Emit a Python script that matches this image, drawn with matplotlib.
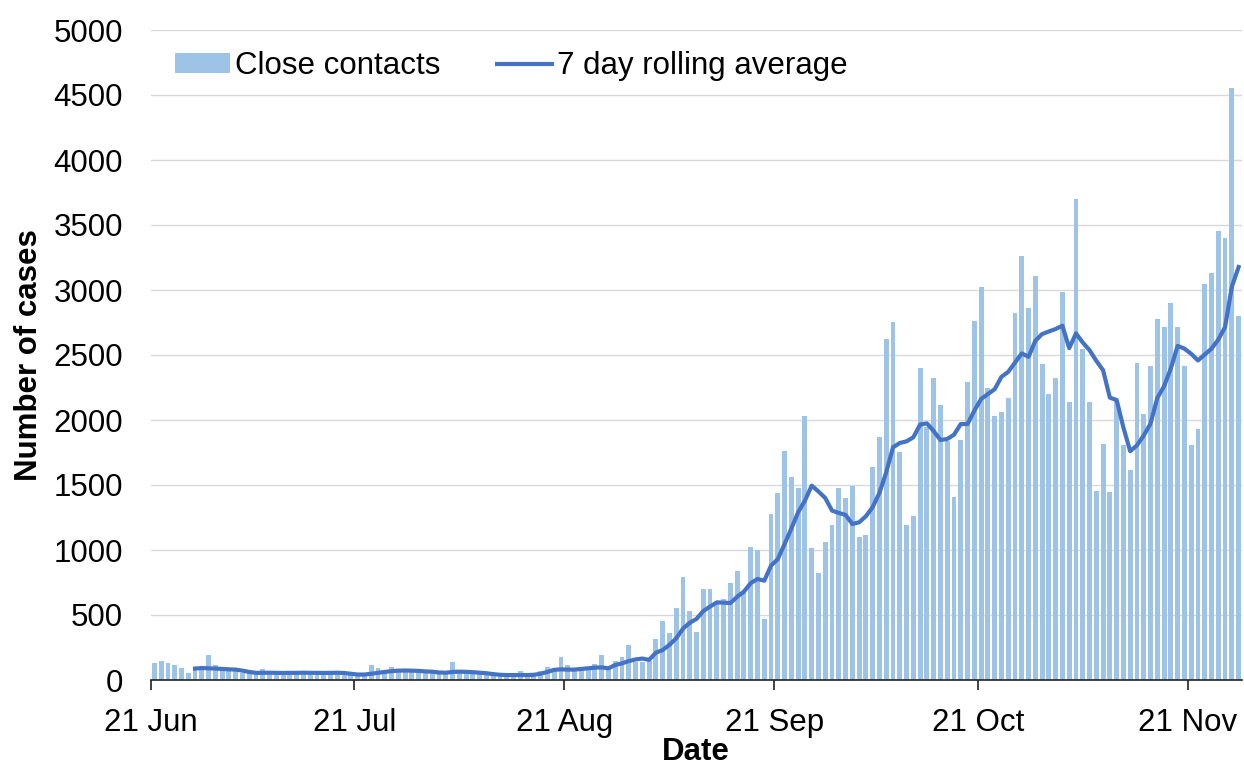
import matplotlib
matplotlib.use("Agg")
import matplotlib.pyplot as plt
import numpy as np

plt.rcParams['font.family'] = ['Liberation Sans', 'DejaVu Sans']

# Daily values starting 21 Jun (index 0) through 28 Nov (index 160)
close_contacts = [
    128, 148, 133, 115, 95, 51, 90, 95, 192, 115,
    90, 77, 77, 56, 51, 51, 82, 72, 72, 56,
    56, 56, 56, 56, 72, 56, 56, 56, 56, 38,
    38, 56, 115, 95, 64, 100, 77, 77, 64, 64,
    77, 64, 56, 51, 136, 64, 64, 56, 51, 44,
    38, 33, 28, 33, 72, 33, 38, 72, 100, 95,
    180, 115, 72, 77, 85, 123, 195, 97, 144, 174,
    272, 136, 136, 149, 315, 456, 359, 551, 790, 528,
    367, 700, 700, 600, 620, 744, 841, 680, 1021, 1000,
    469, 1280, 1438, 1764, 1559, 1474, 2033, 1013, 820, 1064,
    1195, 1474, 1400, 1492, 1097, 1118, 1636, 1870, 2623, 2751,
    1751, 1195, 1259, 2397, 1950, 2323, 2118, 1840, 1410, 1846,
    2290, 2764, 3021, 2246, 2030, 2060, 2172, 2820, 3265, 2861,
    3105, 2429, 2203, 2321, 2982, 2141, 3702, 2545, 2141, 1452,
    1812, 1450, 2150, 1811, 1617, 2436, 2048, 2412, 2776, 2715,
    2897, 2715, 2412, 1805, 1933, 3049, 3134, 3456, 3401, 4554,
    2800,
]

# 7 day rolling average, starting at index 6
rolling_avg = [
    88, 92, 90, 88, 85, 82, 80, 72, 62, 55,
    55, 56, 55, 54, 55, 55, 56, 55, 55, 54,
    55, 56, 54, 48, 42, 42, 48, 55, 62, 68,
    72, 73, 72, 70, 66, 64, 58, 56, 62, 64,
    63, 60, 56, 52, 45, 40, 38, 38, 38, 38,
    40, 48, 62, 78, 82, 80, 80, 85, 90, 95,
    97, 90, 115, 128, 145, 158, 165, 155, 210, 230,
    270, 320, 395, 440, 470, 530, 565, 597, 595, 592,
    640, 680, 745, 777, 764, 880, 930, 1046, 1165, 1290,
    1380, 1495, 1450, 1400, 1303, 1285, 1270, 1200, 1213, 1260,
    1330, 1440, 1597, 1790, 1823, 1836, 1867, 1965, 1974, 1915,
    1846, 1854, 1887, 1969, 1969, 2072, 2162, 2200, 2237, 2332,
    2370, 2442, 2512, 2486, 2609, 2661, 2681, 2700, 2725, 2553,
    2666, 2596, 2537, 2455, 2383, 2172, 2154, 1942, 1760, 1805,
    1881, 1972, 2169, 2260, 2397, 2570, 2549, 2509, 2458, 2503,
    2549, 2618, 2715, 3025, 3177,
]
avg_start = 6

tick_days = [0, 30, 61, 92, 122, 153]
tick_labels = ["21 Jun", "21 Jul", "21 Aug", "21 Sep", "21 Oct", "21 Nov"]

fig = plt.figure(figsize=(12.44, 7.66), dpi=100)
ax = fig.add_axes([151/1244, 86/766, (1242-151)/1244, 650/766])

n = len(close_contacts)
x = np.arange(n) + 0.5
bars = ax.bar(x, close_contacts, width=0.72, color="#9DC3E6", label="Close contacts", zorder=2)
xa = np.arange(avg_start, avg_start + len(rolling_avg)) + 0.5
line, = ax.plot(xa, rolling_avg, color="#4472C4", lw=3.0, label="7 day rolling average", zorder=3,
                solid_joinstyle='round')

ax.set_xlim(0, n)
ax.set_ylim(0, 5000)
ax.set_yticks(np.arange(0, 5001, 500))
ax.yaxis.grid(True, color="#D9D9D9", lw=1.0, zorder=0)
ax.set_axisbelow(True)
for s in ["left", "right", "top"]:
    ax.spines[s].set_visible(False)
ax.spines["bottom"].set_color("#222222")
ax.spines["bottom"].set_linewidth(1.2)
ax.tick_params(axis="y", length=0, labelsize=22.5, pad=20, colors="black")
ax.set_xticks(tick_days)
ax.set_xticklabels(tick_labels)
ax.tick_params(axis="x", length=7, width=1.2, color="#222222", labelsize=22.5, pad=13)
ax.set_xlabel("Date", fontsize=22.5, fontweight="bold", va="center")
ax.set_ylabel("Number of cases", fontsize=22.5, fontweight="bold", va="center")
ax.xaxis.set_label_coords((696-151)/1091, (680-752)/650)
ax.yaxis.set_label_coords((29-151)/1091, (680-355)/650)

fig.legend([bars, line], ["Close contacts", "7 day rolling average"],
           loc="center left", bbox_to_anchor=(175/1244, 1 - 66/766), bbox_transform=fig.transFigure,
           ncol=2, frameon=False, fontsize=22.5, handlelength=1.75, handleheight=0.6,
           handletextpad=0.18, columnspacing=1.8, borderpad=0, borderaxespad=0)

fig.savefig("out.png", dpi=100)
